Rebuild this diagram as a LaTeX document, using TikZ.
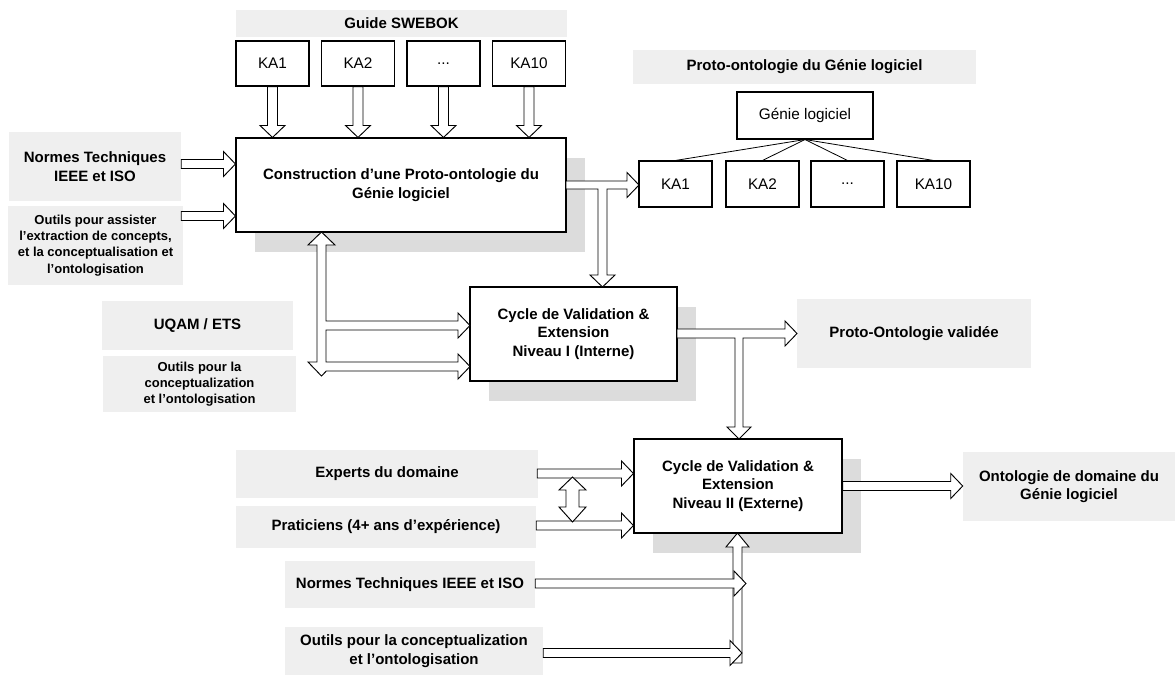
\documentclass[tikz,border=0pt]{standalone}
\usepackage{fontspec}
\setmainfont{Liberation Sans}
\usetikzlibrary{calc,shadows}
\definecolor{labelgray}{HTML}{EFEFEF}
\definecolor{shadowgray}{HTML}{DCDCDC}

% hollow block arrows: [shaft half-width]{start}{tip}
\newcommand{\blockdown}[3][5]{%
  \draw[blk] ($(#2)+(-#1,0)$) -- ($(#3)+(-#1,-12)$) -- ($(#3)+(-12.5,-12)$) -- (#3)
    -- ($(#3)+(12.5,-12)$) -- ($(#3)+(#1,-12)$) -- ($(#2)+(#1,0)$) -- cycle;}
\newcommand{\blockright}[3][4.5]{%
  \draw[blk] ($(#2)+(0,-#1)$) -- ($(#3)+(-12,-#1)$) -- ($(#3)+(-12,-12.5)$) -- (#3)
    -- ($(#3)+(-12,12.5)$) -- ($(#3)+(-12,#1)$) -- ($(#2)+(0,#1)$) -- cycle;}

\begin{document}
\begin{tikzpicture}[x=0.75pt,y=-0.75pt,
  sz/.style 2 args={minimum width=#1*0.75pt, minimum height=#2*0.75pt},
  bigtext/.style={font=\bfseries\fontsize{11.25}{14}\selectfont},
  smalltext/.style={font=\bfseries\fontsize{9.75}{12.2}\selectfont},
  lbl/.style={fill=labelgray, draw=none, inner sep=0pt, align=center, bigtext},
  lblsmall/.style={lbl, smalltext},
  proc/.style={draw=black, fill=white, line width=0.8pt, inner sep=0pt, align=center, bigtext,
    drop shadow={shadow xshift=14pt, shadow yshift=-15pt, fill=shadowgray, opacity=1}},
  kabox/.style={draw=black, fill=white, line width=0.8pt, inner sep=0pt,
    font=\fontsize{11.5}{13.8}\selectfont, sz={73}{46}},
  blk/.style={draw=black, fill=white, line width=0.7pt, line join=miter},
  tree/.style={draw=black, line width=0.6pt},
]
\useasboundingbox (0,0) rectangle (1175,675);

% ---- grey labels ----
\node[lbl, sz={331}{27}] (swebok) at (401.5,23.5) {Guide SWEBOK};
\node[lbl, sz={172}{69}] (nti) at (95,166.5) {Normes Techniques\\IEEE et ISO};
\node[lblsmall, sz={175}{79}] (oae) at (95.5,245.5) {Outils pour assister\\l’extraction de concepts,\\et la conceptualisation et\\l’ontologisation};
\node[lbl, sz={191}{49}] (uqam) at (197.5,325.5) {UQAM / ETS};
\node[lblsmall, sz={193}{56}] (ocu) at (199.5,384) {Outils pour la\\conceptualization\\et l’ontologisation};
\node[lbl, sz={343}{34}] (pog) at (804.5,67) {Proto-ontologie du Génie logiciel};
\node[lbl, sz={234}{69}] (pov) at (914,333.5) {Proto-Ontologie validée};
\node[lbl, sz={212}{69}] (odg) at (1069,486.5) {Ontologie de domaine du\\Génie logiciel};
\node[lbl, sz={302}{48}] (exp) at (387,474) {Experts du domaine};
\node[lbl, sz={300}{42}] (pra) at (386,527) {Praticiens (4+ ans d’expérience)};
\node[lbl, sz={250}{47}] (nb) at (410,584.5) {Normes Techniques IEEE et ISO};
\node[lbl, sz={258}{48}] (ob) at (414,651) {Outils pour la conceptualization\\et l’ontologisation};

% ---- SWEBOK knowledge areas ----
\node[kabox, sz={73}{45}] (t1) at (272.5,63.5) {KA1};
\node[kabox, sz={73}{45}] (t2) at (358,63.5) {KA2};
\node[kabox, sz={73}{45}] (t3) at (443.5,63.5) {...};
\node[kabox, sz={73}{45}] (t4) at (529,63.5) {KA10};

% ---- process boxes ----
\node[proc, sz={330}{94}] (cons) at (401,185) {Construction d’une Proto-ontologie du\\Génie logiciel};
\node[proc, sz={207}{94}] (cv1) at (573.5,334) {Cycle de Validation \&\\Extension\\Niveau I (Interne)};
\node[proc, sz={208}{94}] (cv2) at (738,486) {Cycle de Validation \&\\Extension\\Niveau II (Externe)};

% ---- proto-ontology tree ----
\node[kabox, sz={136}{47}] (gl) at (805,115.5) {Génie logiciel};
\node[kabox] (r1) at (675.5,184) {KA1};
\node[kabox] (r2) at (762.5,184) {KA2};
\node[kabox] (r3) at (847.5,184) {...};
\node[kabox] (r4) at (933.5,184) {KA10};
\foreach \k in {r1,r2,r3,r4} \draw[tree] (gl.south) -- (\k.north);

% ---- arrows into the construction step ----
\foreach \k in {t1,t2,t3,t4} {\blockdown{\k.south}{\k.south |- cons.north}}
\coordinate (n1) at ($(nti.east)+(0,-2.5)$);
\blockright{n1}{n1 -| cons.west}
\coordinate (o1) at ($(oae.east)+(-2,-29.5)$);
\blockright{o1}{o1 -| cons.west}

% construction -> KA tree, with branch down to level I
\draw[blk] (566,181) -- (627,181) -- (627,172.5) -- (639,185) -- (627,197.5) -- (627,189)
  -- (607,189) -- (607,275) -- (615,275) -- (602.5,287) -- (590,275) -- (598,275)
  -- (598,189) -- (566,189) -- cycle;

% two-way link construction / level I with its two feeds
\draw[blk] (321.5,232) -- (335,245) -- (326,245) -- (326,321) -- (458,321) -- (458,313)
  -- (470,325.5) -- (458,338) -- (458,330) -- (326,330) -- (326,362) -- (458,362)
  -- (458,354) -- (470,366.5) -- (458,379) -- (458,371) -- (326.3,371) -- (321.5,376)
  -- (308,362) -- (317,362) -- (317,245) -- (308,245) -- cycle;

% level I -> validated proto-ontology, with branch down to level II
\draw[blk] (677,329) -- (785,329) -- (785,321) -- (797,333.5) -- (785,346) -- (785,338)
  -- (743,338) -- (743,427) -- (751,427) -- (739,439) -- (727,427) -- (735,427)
  -- (735,338) -- (677,338) -- cycle;

% ---- arrows into level II ----
\coordinate (e1) at ($(exp.east)+(-1,-0.5)$);
\blockright{e1}{e1 -| cv2.west}
\coordinate (p1) at ($(pra.east)+(0,-1.5)$);
\blockright{p1}{p1 -| cv2.west}
\coordinate (dt) at (572.5,477);
\coordinate (db) at (572.5,522);
\draw[blk] (dt) -- (586,490) -- (579,490) -- (579,507) -- (586,507) -- (db)
  -- (559,507) -- (566,507) -- (566,490) -- (559,490) -- cycle;

\blockright{cv2.east}{cv2.east -| odg.west}

% bottom collector into level II
\draw[blk] (737.5,533) -- (749,547) -- (742,547) -- (742,663) -- (733,663) -- (733,547)
  -- (726,547) -- cycle;
\coordinate (n2) at ($(nb.east)+(0,-1)$);
\coordinate (n2t) at (746,583.5);
\blockright{n2}{n2t}
\coordinate (o2) at ($(ob.east)+(0,2)$);
\coordinate (o2t) at (742,653);
\blockright{o2}{o2t}
\end{tikzpicture}
\end{document}
